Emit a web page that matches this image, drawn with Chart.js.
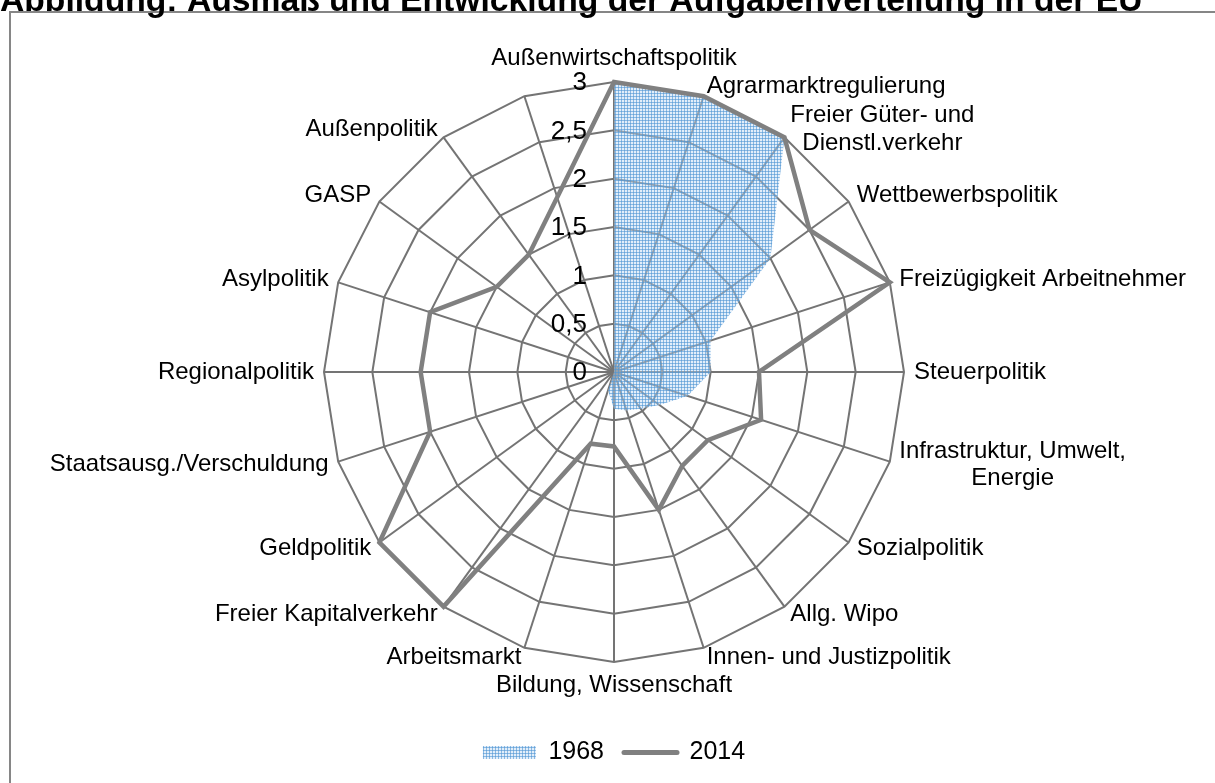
<!DOCTYPE html>
<html>
<head>
<meta charset="utf-8">
<script src="https://cdn.jsdelivr.net/npm/chart.js@4.4.1/dist/chart.umd.min.js"></script>
<style>
  html, body { margin: 0; padding: 0; background: #fff; }
  canvas { display: block; }
</style>
</head>
<body>
<canvas id="myChart" width="1215" height="783"></canvas>
<script>
const chartTitle = "Abbildung: Ausmaß und Entwicklung der Aufgabenverteilung in der EU";

const categories = [
  "Außenwirtschaftspolitik",
  "Agrarmarktregulierung",
  ["Freier Güter- und", "Dienstl.verkehr"],
  "Wettbewerbspolitik",
  "Freizügigkeit Arbeitnehmer",
  "Steuerpolitik",
  ["Infrastruktur, Umwelt,", "Energie"],
  "Sozialpolitik",
  "Allg. Wipo",
  "Innen- und Justizpolitik",
  "Bildung, Wissenschaft",
  "Arbeitsmarkt",
  "Freier Kapitalverkehr",
  "Geldpolitik",
  "Staatsausg./Verschuldung",
  "Regionalpolitik",
  "Asylpolitik",
  "GASP",
  "Außenpolitik",
  "",
];

const values1968 = [3, 3, 3, 2, 1.05, 1, 0.8, 0.58, 0.47, 0.42, 0.38, 0.2, 0, 0, 0, 0, 0, 0, 0, 0];
const values2014 = [3, 3, 3, 2.5, 3, 1.5, 1.6, 1.2, 1.2, 1.5, 0.77, 0.78, 3, 3, 2, 2, 2, 1.5, 1.5, 1.9];

const tickLabels = ["0", "0,5", "1", "1,5", "2", "2,5", "3"];

const FONT = "'Liberation Sans', Arial, sans-serif";
const gridGray = "#747474";

// fine blue grid pattern like the excel fill
const makePattern = () => {
  const tile = document.createElement("canvas");
  tile.width = 3;
  tile.height = 3;
  const t = tile.getContext("2d");
  t.fillStyle = "rgba(190, 218, 243, 0.45)";
  t.fillRect(0, 0, 3, 3);
  t.fillStyle = "rgba(80, 150, 212, 0.6)";
  t.fillRect(0, 0, 3, 1);
  t.fillRect(0, 0, 1, 3);
  return t.createPattern(tile, "repeat");
};

const decorations = {
  id: "decorations",
  beforeDraw(chart) {
    const ctx = chart.ctx;
    ctx.save();
    ctx.fillStyle = "#fff";
    ctx.fillRect(0, 0, chart.width, chart.height);
    ctx.strokeStyle = "#868686";
    ctx.lineWidth = 2;
    ctx.beginPath();
    ctx.moveTo(10, chart.height + 5);
    ctx.lineTo(10, 12);
    ctx.lineTo(chart.width + 5, 12);
    ctx.stroke();
    ctx.restore();
  },
  afterDraw(chart) {
    const ctx = chart.ctx;
    const scale = chart.scales.r;
    ctx.save();

    // title, cut at the top like in the source
    ctx.font = "bold 28px " + FONT;
    const tw = ctx.measureText(chartTitle).width;
    const ts = 28 * 1143 / tw;
    ctx.font = "bold " + ts + "px " + FONT;
    ctx.fillStyle = "#000";
    ctx.textAlign = "left";
    ctx.textBaseline = "alphabetic";
    ctx.fillText(chartTitle, 0, 11);

    // value labels left of the vertical axis
    ctx.font = "26px " + FONT;
    ctx.textAlign = "right";
    ctx.textBaseline = "middle";
    scale.ticks.forEach((tick, i) => {
      const p = scale.getPointPositionForValue(0, tick.value);
      ctx.fillText(tickLabels[i], scale.xCenter - 27, p.y + 1);
    });

    // category labels
    const size = 24;
    const lh = size * 1.15;
    ctx.font = size + "px " + FONT;
    chart.data.labels.forEach((label, i) => {
      const lines = Array.isArray(label) ? label : [label];
      if (!lines.join("")) return;
      const deg = Math.round((scale.getIndexAngle(i) * 180) / Math.PI) % 360;
      const pos = scale.getPointPosition(i, scale.drawingArea + 10);
      const widths = lines.map((l) => ctx.measureText(l).width);
      const bw = Math.max(...widths);
      const bh = lines.length * lh;
      let left;
      if (deg === 0 || deg === 180) left = pos.x - bw / 2;
      else if (deg < 180) left = pos.x;
      else left = pos.x - bw;
      let top;
      if (deg === 0) top = pos.y - bh;
      else if (deg === 180) top = pos.y;
      else top = pos.y - bh / 2;
      ctx.textAlign = "left";
      lines.forEach((l, k) => {
        ctx.fillText(l, left + (bw - widths[k]) / 2, top + lh * k + lh / 2);
      });
    });
    ctx.restore();
  },
};

const makeGraph = () => {
  const chart_ctx = document.getElementById("myChart");
  const pattern = makePattern();
  const data = {
    labels: categories,
    datasets: [
      {
        label: "1968",
        data: values1968,
        backgroundColor: pattern,
        borderColor: "rgba(0,0,0,0)",
        borderWidth: 0,
        fill: true,
        pointRadius: 0,
        order: 2,
        clip: false,
      },
      {
        label: "2014",
        data: values2014,
        backgroundColor: "#808080",
        borderColor: "#808080",
        borderWidth: 4.5,
        borderJoinStyle: "miter",
        fill: false,
        pointRadius: 0,
        order: 1,
        clip: false,
      },
    ],
  };
  const config = {
    type: "radar",
    data,
    options: {
      responsive: false,
      animation: false,
      devicePixelRatio: 1,
      layout: { padding: { left: 324, right: 311, top: 24, bottom: 8 } },
      scales: {
        r: {
          min: 0,
          max: 3,
          ticks: { stepSize: 0.5, display: false },
          grid: { color: gridGray, lineWidth: 2 },
          angleLines: { color: gridGray, lineWidth: 2 },
          pointLabels: { display: false },
        },
      },
      plugins: {
        title: { display: false },
        tooltip: { enabled: false },
        legend: {
          position: "bottom",
          labels: {
            usePointStyle: true,
            pointStyleWidth: 53,
            boxHeight: 13,
            padding: 20,
            color: "#000",
            font: { family: FONT, size: 25 },
            generateLabels: (chart) =>
              chart.data.datasets.map((ds, i) => ({
                text: ds.label,
                fillStyle: ds.backgroundColor,
                strokeStyle: ds.borderColor,
                lineWidth: i === 0 ? 0 : 5,
                lineCap: "round",
                pointStyle: i === 0 ? "rect" : "line",
                hidden: false,
                fontColor: "#000",
                datasetIndex: i,
              })),
          },
        },
      },
    },
    plugins: [decorations],
  };
  return new Chart(chart_ctx, config);
};

makeGraph();
</script>
</body>
</html>
